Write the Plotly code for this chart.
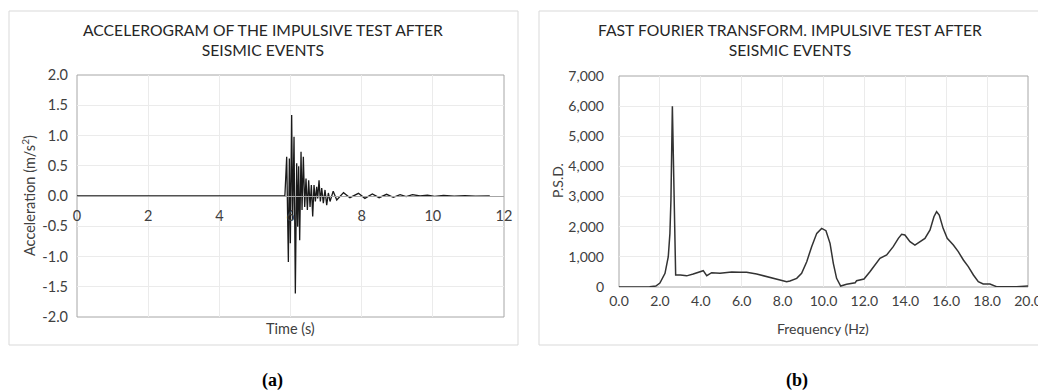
import plotly.graph_objects as go

# ---- (a) Accelerogram data ----
time_s = [0.0, 2.0, 4.0, 5.84, 5.846, 5.893, 5.940, 5.968, 5.996, 6.033, 6.061, 6.099, 6.136, 6.174,
          6.202, 6.230, 6.258, 6.296, 6.324, 6.361, 6.399, 6.436, 6.474, 6.511, 6.549, 6.586,
          6.624, 6.661, 6.699, 6.736, 6.764, 6.802, 6.839, 6.877, 6.923, 6.970, 7.017, 7.064,
          7.111, 7.20, 7.30, 7.49, 7.67, 7.91, 8.09, 8.30, 8.49, 8.70, 8.89, 9.08, 9.25, 9.43,
          9.64, 9.85, 10.05, 10.30, 10.60, 10.90, 11.20, 11.60]
accel = [0.0, 0.0, 0.0, 0.0, 0.05, 0.65, -1.09, 0.62, -0.78, 1.34, -0.40, 0.98, -1.61, 0.54,
         -0.51, 0.49, -0.73, 0.73, -0.23, 0.65, -0.18, 0.29, -0.23, 0.26, -0.18, 0.18,
         -0.34, 0.18, -0.09, 0.15, -0.04, 0.26, -0.09, 0.13, -0.12, 0.10, -0.15, 0.05,
         -0.09, 0.08, -0.066, 0.055, -0.028, 0.044, -0.039, 0.033, -0.028, 0.028, -0.022, 0.022,
         -0.011, 0.022, 0.0, 0.012, -0.005, 0.008, -0.004, 0.006, -0.003, 0.0]
accel_ticks = [-2.0, -1.5, -1.0, -0.5, 0.0, 0.5, 1.0, 1.5, 2.0]
accel_tick_labels = ["-2.0", "-1.5", "-1.0", "-0.5", "0.0", "0.5", "1.0", "1.5", "2.0"]

# ---- (b) FFT data ----
freq_hz = [0.0, 1.0, 1.5, 1.8, 2.0, 2.25, 2.41, 2.49, 2.54, 2.61, 2.70, 2.77, 3.0, 3.31, 3.63,
           3.90, 4.12, 4.29, 4.53, 4.94, 5.10, 5.51, 5.92, 6.24, 6.73, 7.06, 7.38, 7.71, 8.20,
           8.36, 8.69, 8.93, 9.18, 9.42, 9.67, 9.91, 10.12, 10.32, 10.48, 10.64, 10.84, 11.13,
           11.38, 11.55, 11.62, 11.78, 11.98, 12.27, 12.52, 12.76, 13.09, 13.41, 13.66, 13.82,
           13.98, 14.23, 14.47, 14.72, 14.96, 15.21, 15.40, 15.53, 15.66, 15.85, 16.05, 16.35,
           16.59, 16.84, 17.08, 17.33, 17.57, 17.81, 18.14, 18.46, 18.95, 19.44, 20.0]
psd = [0, 0, 5, 30, 130, 453, 1005, 1780, 2886, 6000, 2000, 400, 400, 370, 431,
       480, 541, 376, 475, 453, 470, 500, 486, 486, 431, 376, 310, 254, 177,
       199, 287, 453, 840, 1338, 1780, 1945, 1868, 1448, 785, 287, 33, 88,
       122, 140, 210, 232, 265, 508, 730, 951, 1061, 1338, 1614, 1747,
       1725, 1504, 1393, 1504, 1614, 1891, 2333, 2499, 2389, 1946, 1614, 1393,
       1172, 896, 675, 398, 177, 100, 100, 11, 0, 11, 33]

W, H = 1038, 392
def px(x):
    return x / W
def py(y):
    return 1 - y / H

FONT = "Lato"
GRID = "#ebebeb"
AXC = "#a6a6a6"
TXT = "#404040"
TICKFONT_A = dict(size=14.5, color=TXT)
TICKFONT_B = dict(size=14, color=TXT)

fig = go.Figure()
fig.add_trace(go.Scatter(x=time_s, y=accel, mode="lines", xaxis="x", yaxis="y",
                         line=dict(color="#1a1a1a", width=1.3), showlegend=False))
fig.add_trace(go.Scatter(x=freq_hz, y=psd, mode="lines", xaxis="x2", yaxis="y2",
                         line=dict(color="#333333", width=1.5), showlegend=False))

fig.update_layout(
    width=W, height=H, margin=dict(l=0, r=0, t=0, b=0, autoexpand=False),
    paper_bgcolor="white", plot_bgcolor="white",
    font=dict(family=FONT, color=TXT, size=13),
    xaxis=dict(domain=[px(77), px(504)], range=[0, 12], dtick=2, anchor="free",
               position=py(196), showgrid=True, gridcolor=GRID, zeroline=False,
               showline=True, linecolor=AXC, ticks="", ticklabelstandoff=7,
               tickfont=TICKFONT_A, automargin=False, ticklabeloverflow="allow"),
    yaxis=dict(domain=[py(317), py(75)], range=[-2, 2], tickmode="array",
               tickvals=accel_ticks, ticktext=accel_tick_labels,
               showgrid=True, gridcolor=GRID, zeroline=False, showline=False,
               ticks="", ticklabelstandoff=8, tickfont=TICKFONT_A, automargin=False),
    xaxis2=dict(domain=[px(619), px(1028)], range=[0, 20], dtick=2, tickformat=".1f",
                anchor="y2", showgrid=True, gridcolor=GRID, zeroline=False,
                showline=False, ticks="", ticklabelstandoff=4,
                tickfont=TICKFONT_B, automargin=False, ticklabeloverflow="allow"),
    yaxis2=dict(domain=[py(287), py(76)], range=[0, 7000], dtick=1000, tickformat=",",
                anchor="x2", showgrid=True, gridcolor=GRID, zeroline=False,
                showline=False, ticks="", ticklabelstandoff=14,
                tickfont=TICKFONT_B, automargin=False),
)

shapes = [
    # outer chart boxes
    dict(type="rect", xref="paper", yref="paper", x0=px(9), x1=px(518), y0=py(345), y1=py(11),
         line=dict(color="#d9d9d9", width=1)),
    dict(type="rect", xref="paper", yref="paper", x0=px(539), x1=1.05, y0=py(345), y1=py(11),
         line=dict(color="#d9d9d9", width=1)),
    # plot area frames
    dict(type="rect", xref="x domain", yref="y domain", x0=0, x1=1, y0=0, y1=1,
         line=dict(color=AXC, width=1), layer="below"),
    dict(type="rect", xref="x2 domain", yref="y2 domain", x0=0, x1=1, y0=0, y1=1,
         line=dict(color=AXC, width=1), layer="below"),
]
fig.update_layout(shapes=shapes)

ann = [
    dict(text="ACCELEROGRAM OF THE IMPULSIVE TEST AFTER<br>SEISMIC EVENTS", x=px(263), y=py(40),
         font=dict(size=15.7, color="#262626")),
    dict(text="FAST FOURIER TRANSFORM. IMPULSIVE TEST AFTER<br>SEISMIC EVENTS", x=px(790), y=py(40),
         font=dict(size=15.7, color="#262626")),
    dict(text="Time (s)", x=px(290), y=py(328), font=dict(size=14.5, color=TXT)),
    dict(text="Frequency (Hz)", x=px(823), y=py(328), font=dict(size=14, color=TXT)),
    dict(text="Acceleration (m/s<sup>2</sup>)", x=px(28), y=py(196), textangle=-90,
         font=dict(size=14.5, color=TXT)),
    dict(text="P.S.D.", x=px(557), y=py(181), textangle=-90, font=dict(size=14, color=TXT)),
    dict(text="<b>(a)</b>", x=px(272), y=py(380), font=dict(size=18, color="black", family="Liberation Serif")),
    dict(text="<b>(b)</b>", x=px(797), y=py(380), font=dict(size=18, color="black", family="Liberation Serif")),
]
for a in ann:
    a.update(xref="paper", yref="paper", showarrow=False, xanchor="center", yanchor="middle")
fig.update_layout(annotations=ann)

fig.write_html("out.html")
